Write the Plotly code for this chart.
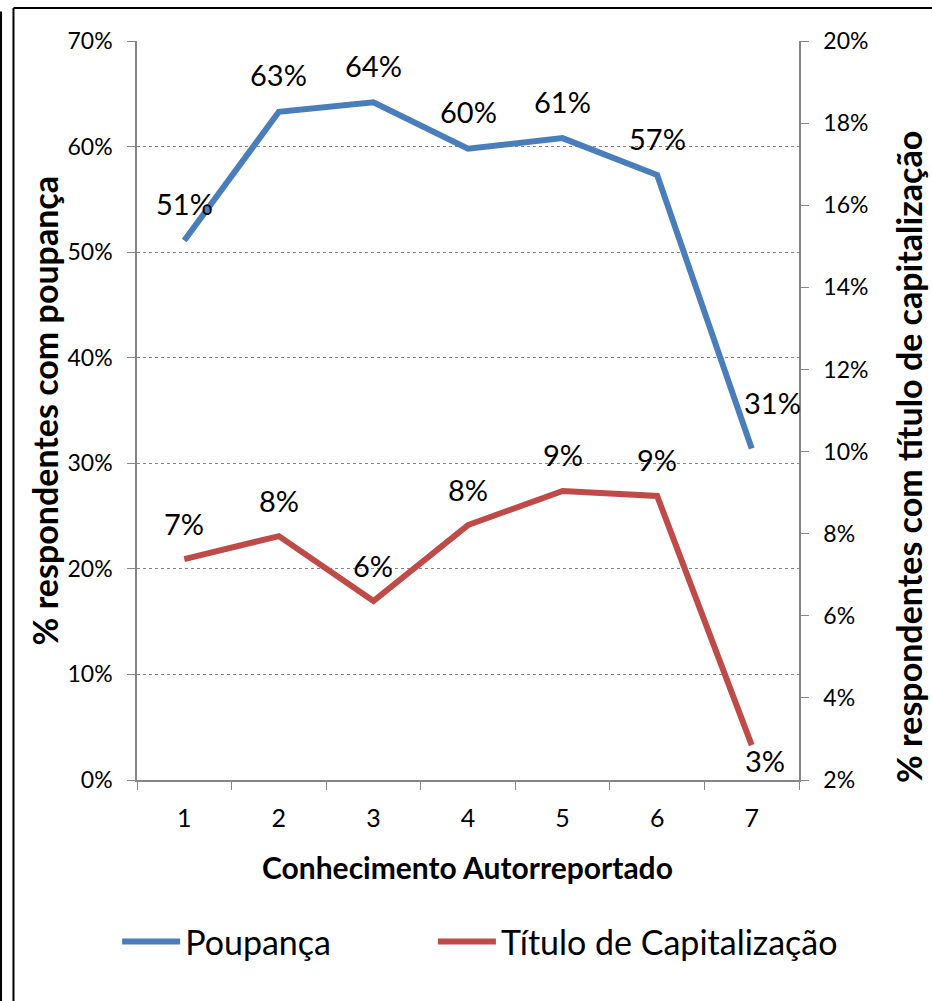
import plotly.graph_objects as go

categorias = ["1", "2", "3", "4", "5", "6", "7"]
poupanca = [0.511, 0.633, 0.642, 0.598, 0.608, 0.573, 0.314]
titulo_cap = [0.0738, 0.0794, 0.0636, 0.0821, 0.0904, 0.0892, 0.0285]

FONT = "Lato"
GRAY = "#868686"
BLUE = "#4A7EBB"
RED = "#BE4B48"

fig = go.Figure()

fig.add_trace(go.Scatter(
    x=categorias, y=poupanca, name="Poupança", mode="lines",
    line=dict(color=BLUE, width=6), yaxis="y", legend="legend",
))
fig.add_trace(go.Scatter(
    x=categorias, y=titulo_cap, name="Título de Capitalização", mode="lines",
    line=dict(color=RED, width=6), yaxis="y2", legend="legend2",
))

# data labels, mostly centred above the point; the last ones sit aside
# (annotation x on a category axis is the category index)
label_font = dict(family=FONT, size=29, color="black")
annotations = []
last = len(categorias) - 1
for i, v in enumerate(poupanca):
    dx, dy = (21, 46) if i == last else (0, 37)
    annotations.append(dict(
        x=i, y=v, xref="x", yref="y", text=f"{v:.0%}", showarrow=False,
        xshift=dx, yshift=dy, font=label_font,
    ))
for i, v in enumerate(titulo_cap):
    dx, dy = (13, -15) if i == last else (0, 36)
    annotations.append(dict(
        x=i, y=v, xref="x", yref="y2", text=f"{v:.0%}", showarrow=False,
        xshift=dx, yshift=dy, font=label_font,
    ))

ytitle_font = dict(family=FONT, size=34, color="black")
annotations += [
    dict(x=-0.139, y=0.5, xref="paper", yref="paper", textangle=-90,
         xanchor="center", yanchor="middle",
         text="<b>% respondentes com poupança</b>", showarrow=False, font=ytitle_font),
    dict(x=1.1647, y=0.437, xref="paper", yref="paper", textangle=-90,
         xanchor="center", yanchor="middle",
         text="<b>% respondentes com título de capitalização</b>", showarrow=False,
         font=ytitle_font),
    dict(x=0.4985, y=-0.118, xref="paper", yref="paper",
         xanchor="center", yanchor="middle",
         text="<b>Conhecimento Autorreportado</b>", showarrow=False,
         font=dict(family=FONT, size=30, color="black")),
]

# outer frame of the original picture
frame = dict(color="black", width=2)
shapes = [
    dict(type="line", xref="paper", yref="paper", x0=-0.1866, x1=-0.1866,
         y0=1.0447, y1=-0.31, line=frame),
    dict(type="line", xref="paper", yref="paper", x0=-0.1866, x1=1.21,
         y0=1.0447, y1=1.0447, line=frame),
    dict(type="line", xref="paper", yref="paper", x0=-0.2054, x1=-0.2054,
         y0=1.04, y1=-0.31, line=frame),
]

legend_style = dict(
    orientation="h", xanchor="left", y=-0.219, yanchor="middle",
    itemwidth=58, font=dict(family=FONT, size=34, color="black"),
    bgcolor="rgba(0,0,0,0)",
)

fig.update_layout(
    width=932, height=1001,
    margin=dict(l=137, r=133, t=41, b=221),
    paper_bgcolor="white", plot_bgcolor="white",
    font=dict(family=FONT, color="black"),
    showlegend=True,
    legend=dict(x=-0.030, **legend_style),
    legend2=dict(x=0.447, **legend_style),
    xaxis=dict(
        type="category", range=[-0.5, 6.5],
        showline=True, linecolor=GRAY, linewidth=1.5,
        ticks="outside", tickson="boundaries", ticklen=8, tickcolor=GRAY,
        ticklabelstandoff=15,
        showgrid=False, tickfont=dict(family=FONT, size=25, color="black"),
    ),
    yaxis=dict(
        range=[0, 0.7], dtick=0.1, tickformat=".0%",
        showline=True, linecolor=GRAY, linewidth=1.5,
        ticks="outside", ticklen=8, tickcolor=GRAY, ticklabelstandoff=10,
        showgrid=True, gridcolor=GRAY, griddash="dot", gridwidth=1,
        zeroline=False, tickfont=dict(family=FONT, size=23, color="black"),
    ),
    yaxis2=dict(
        range=[0.02, 0.2], dtick=0.02, tickformat=".0%",
        overlaying="y", side="right",
        showline=True, linecolor=GRAY, linewidth=1.5,
        ticks="outside", ticklen=8, tickcolor=GRAY, ticklabelstandoff=10,
        showgrid=False, zeroline=False,
        tickfont=dict(family=FONT, size=23, color="black"),
    ),
    annotations=annotations,
    shapes=shapes,
)

fig.write_html(
    "out.html",
    config={"displayModeBar": False},
    post_script="document.body.style.margin = '0';",
)
